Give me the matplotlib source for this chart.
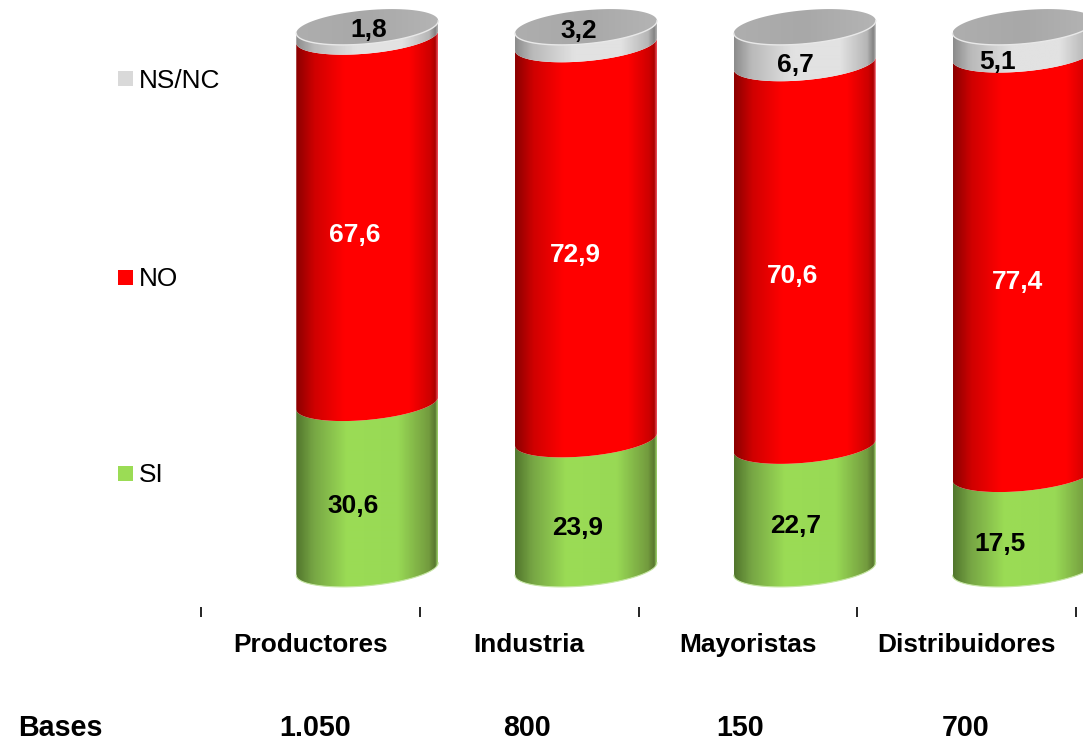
# -*- coding: utf-8 -*-
# Stacked cylinders: SI / NO / NS-NC share per trade group, with survey bases below

import numpy as np
import matplotlib
matplotlib.use("Agg")
import matplotlib.pyplot as plt
from matplotlib.colors import LinearSegmentedColormap
from matplotlib.lines import Line2D
from matplotlib.patches import PathPatch, Rectangle
from matplotlib.path import Path

plt.rcParams['font.family'] = ['Liberation Sans', 'DejaVu Sans']

# Data
categories = ['Productores', 'Industria', 'Mayoristas', 'Distribuidores']
bases = ['1.050', '800', '150', '700']
si_values = [30.6, 23.9, 22.7, 17.5]
no_values = [67.6, 72.9, 70.6, 77.4]
ns_values = [1.8, 3.2, 6.7, 5.1]
series_names = ['SI', 'NO', 'NS/NC']

# Figure size in pixels and where the plot area sits
W, H = 1083, 741
DPI = 100
AX_LEFT, AX_RIGHT = 201, 1076
AX_TOP, AX_BOTTOM = 27, 569

# Cylinder shape, in data units
BAR_WIDTH = 0.649
BAR_SHIFT = 0.76
ELL_B = 3.1
ELL_TILT = 1.15

FONT_SIZE = 18.9
BASES_SIZE = 20.6

# Label nudges in pixels from the middle of each segment (one row per series)
label_dx = [[-14, -8, -9, -24], [-13, -11, -12, -6], [1, -7, -9, -26]]
label_dy = [[-20, -24, -19, -22], [-15, -13, -21, -18], [2, 5, -20, -21]]
label_colors = ['black', 'white', 'black']

# Shading across the width of a cylinder
def shade(name, rgb_stops):
    stops = [(pos, tuple(c / 255 for c in rgb)) for pos, rgb in rgb_stops]
    return LinearSegmentedColormap.from_list(name, stops)

cmap_si = shade('si', [(0, (82, 118, 45)), (0.12, (118, 165, 68)), (0.36, (155, 220, 85)),
                       (0.72, (152, 217, 85)), (0.94, (115, 155, 62)), (0.985, (88, 118, 47)),
                       (1, (150, 200, 100))])
cmap_no = shade('no', [(0, (140, 0, 0)), (0.13, (208, 0, 0)), (0.34, (255, 0, 0)),
                       (0.8, (255, 0, 0)), (0.95, (205, 0, 0)), (0.985, (170, 0, 0)),
                       (1, (230, 70, 80))])
cmap_ns = shade('ns', [(0, (140, 140, 140)), (0.12, (185, 185, 185)), (0.42, (226, 226, 226)),
                       (0.75, (226, 226, 226)), (0.94, (182, 182, 182)), (0.985, (130, 130, 130)),
                       (1, (170, 170, 170))])
cmap_top = shade('top', [(0, (174, 174, 174)), (0.5, (168, 168, 168)), (1, (180, 180, 180))])
segment_cmaps = [cmap_si, cmap_no, cmap_ns]
legend_colors = ['#9bdc55', '#ff0000', '#d9d9d9']

fig = plt.figure(figsize=(W / DPI, H / DPI), dpi=DPI, facecolor='white')
ax = fig.add_axes([AX_LEFT / W, 1 - AX_BOTTOM / H, (AX_RIGHT - AX_LEFT) / W, (AX_BOTTOM - AX_TOP) / H])


def front_arc(cx, level, n=60):
    """Front half of the tilted ellipse at a given height, left to right."""
    t = np.linspace(np.pi, 0, n)
    half = BAR_WIDTH / 2
    return cx + half * np.cos(t), level - ELL_B * np.sin(t) + ELL_TILT * np.cos(t)


def fill_gradient(patch_verts, cx, cmap, y0, y1):
    """Paint a horizontal gradient clipped to the given outline."""
    half = BAR_WIDTH / 2
    im = ax.imshow(np.linspace(0, 1, 284).reshape(1, -1), cmap=cmap, vmin=0, vmax=1,
                   extent=[cx - half, cx + half, y0, y1], aspect='auto',
                   interpolation='bilinear', zorder=2)
    clip = PathPatch(Path(patch_verts), transform=ax.transData, facecolor='none', edgecolor='none')
    ax.add_patch(clip)
    im.set_clip_path(clip)
    im.set_clip_box(fig.bbox)


for i, values in enumerate(zip(si_values, no_values, ns_values)):
    cx = i + BAR_SHIFT
    bottom = 0.0
    for s, value in enumerate(values):
        top = bottom + value
        x_low, y_low = front_arc(cx, bottom)
        x_up, y_up = front_arc(cx, top)
        verts = np.vstack([np.column_stack([x_low, y_low]),
                           np.column_stack([x_up[::-1], y_up[::-1]]),
                           [[x_low[0], y_low[0]]]])
        fill_gradient(verts, cx, segment_cmaps[s], bottom - 8, top + 8)

        ax.annotate(f'{value:.1f}'.replace('.', ','), xy=(cx, bottom + value / 2),
                    xytext=(label_dx[s][i], label_dy[s][i]), textcoords='offset pixels',
                    ha='center', va='center', fontsize=FONT_SIZE, fontweight='bold',
                    color=label_colors[s], zorder=6, annotation_clip=False)
        bottom = top

    # Lid of the cylinder with its pale front rim
    x_up, y_up = front_arc(cx, bottom)
    x_back = x_up[::-1]
    y_back = 2 * bottom - y_up[::-1] + 2 * ELL_TILT * np.cos(np.linspace(0, np.pi, 60))
    lid = np.vstack([np.column_stack([x_up, y_up]), np.column_stack([x_back, y_back])[1:]])
    fill_gradient(lid, cx, cmap_top, bottom - 8, bottom + 8)
    ax.add_line(Line2D(x_up, y_up, color='#e8e8e8', lw=1.0, zorder=3, clip_on=False))

    # Pale fringe along the foot of the cylinder
    x_low, y_low = front_arc(cx, 0.0)
    ax.add_line(Line2D(x_low, y_low, color='#c6e6a4', lw=0.8, zorder=3, clip_on=False))

ax.set_xlim(0, 4)
ax.set_ylim(0, 100)
ax.patch.set_visible(False)
for side in ['top', 'left', 'right', 'bottom']:
    ax.spines[side].set_visible(False)
ax.spines['bottom'].set_position(('outward', 38 * 72 / DPI))

# Ticks mark the group edges, names sit between them
ax.set_yticks([])
ax.set_xticks(np.arange(5))
ax.set_xticklabels([])
ax.set_xticks(np.arange(4) + 0.5, minor=True)
ax.set_xticklabels(categories, minor=True, fontsize=FONT_SIZE, fontweight='bold')
ax.tick_params(axis='x', which='major', length=7, width=1.2, color='black')
ax.tick_params(axis='x', which='minor', length=0, pad=19)

# Legend entries spread down the left side
legend_y = [473, 277, 78]
for name, color, y in zip(series_names, legend_colors, legend_y):
    fig.add_artist(Rectangle((118 / W, 1 - (y + 8) / H), 15 / W, 15 / H,
                             transform=fig.transFigure, facecolor=color, edgecolor='none'))
    fig.text(139 / W, 1 - y / H, name, fontsize=FONT_SIZE, ha='left', va='center_baseline', color='black')

# Bases row
base_x = [315, 527, 740, 966]
fig.text(18 / W, 1 - 725 / H, 'Bases', fontsize=BASES_SIZE, fontweight='bold', ha='left', va='center_baseline')
for x, base in zip(base_x, bases):
    fig.text(x / W, 1 - 725 / H, base, fontsize=BASES_SIZE, fontweight='bold', ha='center', va='center_baseline')

fig.savefig('out.png', dpi=DPI, facecolor='white')
